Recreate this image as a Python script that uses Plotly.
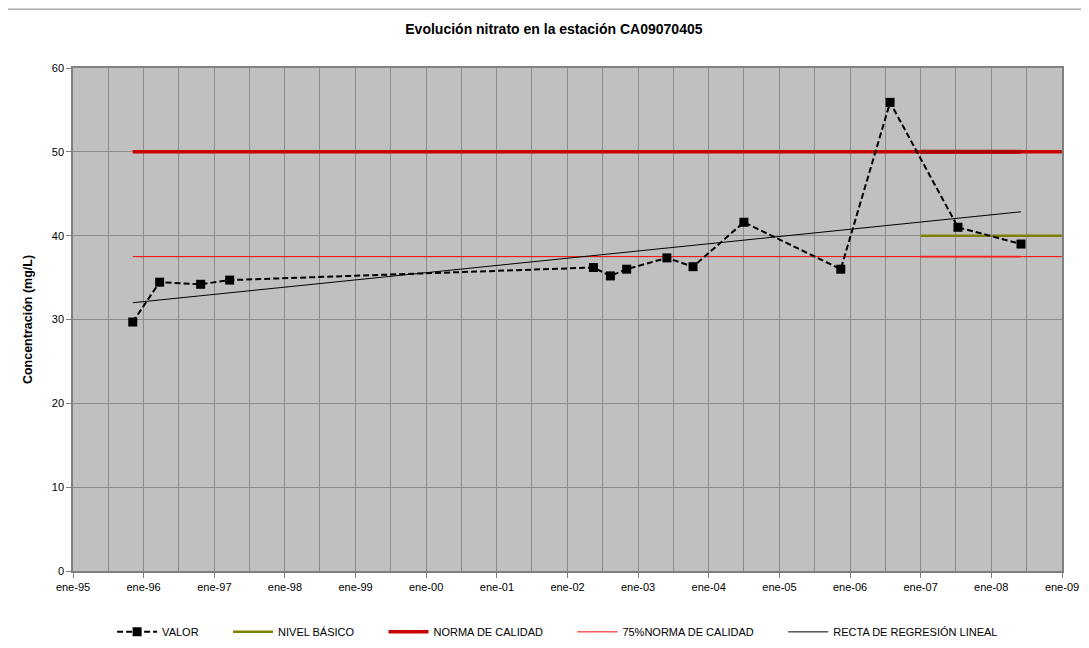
import plotly.graph_objects as go

# ---- data ----
fechas = ["1995-11-06", "1996-03-24", "1996-10-22", "1997-03-21", "2002-05-15",
          "2002-08-11", "2002-11-03", "2003-05-30", "2003-10-12", "2004-07-01",
          "2005-11-14", "2006-07-27", "2007-07-13", "2008-06-03"]
valor = [29.7, 34.45, 34.2, 34.7, 36.2, 35.2, 36.0, 37.35, 36.3, 41.6,
         36.0, 55.9, 41.0, 39.0]

nivel_fechas = ["2007-01-01", "2008-12-31"]
nivel_valor = [40, 40]

norma_fechas = ["1995-11-06", "2008-12-31"]
norma_valor = [50, 50]
norma_seg_fechas = ["2007-01-01", "2008-06-03"]
norma_seg_valor = [50, 50]

p75_fechas = ["1995-11-06", "2008-12-31"]
p75_valor = [37.5, 37.5]
p75_seg_fechas = ["2007-01-01", "2008-06-03"]
p75_seg_valor = [37.5, 37.5]

recta_fechas = ["1995-11-06", "2008-06-03"]
recta_valor = [32.0, 42.85]

anios = list(range(1995, 2010))
tick_vals = [f"{a}-01-01" for a in anios]
tick_text = [f"ene-{str(a)[2:]}" for a in anios]

FONT = "Liberation Sans, Arial, sans-serif"
PAD = "\u00a0" * 8

fig = go.Figure()

fig.add_trace(go.Scatter(
    x=nivel_fechas, y=nivel_valor, mode="lines", name="NIVEL BÁSICO" + PAD,
    line=dict(color="#808000", width=2.5), legendrank=2))
fig.add_trace(go.Scatter(
    x=norma_fechas, y=norma_valor, mode="lines", name="NORMA DE CALIDAD" + PAD,
    line=dict(color="#C80000", width=3.5), legendrank=3))
fig.add_trace(go.Scatter(
    x=norma_seg_fechas, y=norma_seg_valor, mode="lines", showlegend=False,
    line=dict(color="#B00000", width=4)))
fig.add_trace(go.Scatter(
    x=p75_fechas, y=p75_valor, mode="lines", name="75%NORMA DE CALIDAD" + PAD,
    line=dict(color="#FF0000", width=1), legendrank=4))
fig.add_trace(go.Scatter(
    x=p75_seg_fechas, y=p75_seg_valor, mode="lines", showlegend=False,
    line=dict(color="#FF2020", width=1.8)))
fig.add_trace(go.Scatter(
    x=recta_fechas, y=recta_valor, mode="lines", name="RECTA DE REGRESIÓN LINEAL",
    line=dict(color="#000000", width=1), legendrank=5))
fig.add_trace(go.Scatter(
    x=fechas, y=valor, mode="lines+markers", name="VALOR" + PAD,
    line=dict(color="#000000", width=2, dash="6px,3px"),
    marker=dict(symbol="square", size=9, color="#000000"), legendrank=1))

fig.update_layout(
    width=1081, height=640,
    margin=dict(l=65, r=27, t=60, b=77, autoexpand=False),
    paper_bgcolor="white",
    plot_bgcolor="#C0C0C0",
    font=dict(family=FONT, size=11, color="black"),
    title=dict(text="<b>Evolución nitrato en la estación CA09070405</b>",
               x=0.505, xanchor="center", y=0.967, yanchor="middle",
               font=dict(family=FONT, size=14, color="black")),
    showlegend=True,
    legend=dict(orientation="h", x=0.49, xanchor="center", y=-0.121, yanchor="middle",
                font=dict(family=FONT, size=11), itemwidth=40,
                traceorder="normal", bgcolor="rgba(0,0,0,0)"),
    shapes=[dict(type="rect", xref="paper", yref="paper",
                 x0=-0.0708, x1=1.2, y0=-0.3, y1=1.117,
                 line=dict(color="#808080", width=1), fillcolor="rgba(0,0,0,0)",
                 layer="below")],
)

fig.update_xaxes(
    range=["1995-01-01", "2009-01-01"],
    tickmode="array", tickvals=tick_vals, ticktext=tick_text,
    ticks="outside", ticklen=5, tickcolor="#808080",
    showgrid=True, gridcolor="#8C8C8C", gridwidth=1,
    minor=dict(dtick="M6", tick0="1995-01-01", showgrid=True,
               gridcolor="#8C8C8C", gridwidth=1, ticks=""),
    showline=True, linecolor="#808080", linewidth=1.5, mirror=True,
    zeroline=False, automargin=False, tickfont=dict(family=FONT, size=11),
)
fig.update_yaxes(
    range=[0, 60], dtick=10,
    ticks="outside", ticklen=5, tickcolor="#808080",
    showgrid=True, gridcolor="#8C8C8C", gridwidth=1,
    showline=True, linecolor="#808080", linewidth=1.5, mirror=True,
    zeroline=False, automargin=False, tickfont=dict(family=FONT, size=11),
    title=dict(text="<b>Concentración (mg/L)</b>",
               font=dict(family=FONT, size=12.5), standoff=16),
)

fig.write_html("out.html")
